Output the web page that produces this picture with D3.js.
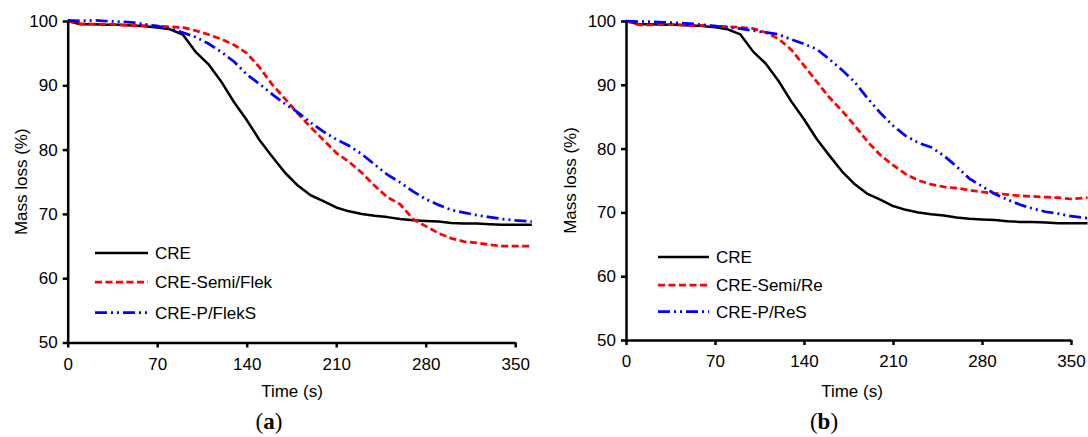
<!DOCTYPE html>
<html>
<head>
<meta charset="utf-8">
<script src="https://cdn.jsdelivr.net/npm/d3@7"></script>
<style>
  html, body { margin: 0; padding: 0; background: #fff; }
  svg { display: block; font-family: "Liberation Sans", Arial, sans-serif; }
</style>
</head>
<body>
<svg id="chart" width="1088" height="437"></svg>
<script>
// ---- data ----
const time = [0,10,20,30,40,50,60,70,80,90,100,110,120,130,140,150,160,170,180,190,200,210,220,230,240,250,260,270,280,290,300,310,320,330,340,350,363];
const xTicks = [0,70,140,210,280,350];
const yTicks = [50,60,70,80,90,100];

const cre = [100,99.5,99.5,99.4,99.4,99.3,99.2,99.0,98.7,97.9,95.2,93.3,90.6,87.4,84.6,81.5,78.9,76.4,74.4,72.9,72.0,71.0,70.4,70.0,69.7,69.5,69.2,69.0,68.9,68.8,68.6,68.5,68.5,68.4,68.3,68.3,68.3];

const semiFlek = [100,99.6,99.5,99.5,99.4,99.3,99.3,99.2,99.1,99.0,98.5,97.9,97.2,96.3,95.0,92.8,90.1,87.9,85.6,83.5,81.5,79.5,78.1,76.4,74.4,72.6,71.5,69.2,68.1,67.0,66.2,65.7,65.5,65.2,65.0,65.0,65.0];
const pFlekS = [100.1,100.0,100.1,100.0,99.9,99.8,99.5,99.2,98.8,98.2,97.5,96.5,95.2,93.7,91.7,90.2,88.6,87.1,85.8,84.2,82.8,81.6,80.6,79.3,77.7,76.1,74.9,73.5,72.3,71.4,70.6,70.2,69.8,69.5,69.2,69.0,68.8];

const semiRe = [100,99.4,99.4,99.5,99.4,99.3,99.3,99.2,99.1,99.0,98.8,98.2,97.2,95.5,93.0,90.5,88.0,85.9,83.6,81.1,79.0,77.4,76.0,75.0,74.4,74.0,73.8,73.5,73.2,73.0,72.8,72.6,72.5,72.4,72.3,72.1,72.3];
const pReS = [100,99.9,99.9,99.8,99.7,99.6,99.4,99.2,99.0,98.8,98.5,98.2,97.9,97.1,96.4,95.6,94.0,92.3,90.4,87.9,85.6,83.6,82.0,80.9,80.2,78.9,77.2,75.3,74.1,72.9,72.0,71.2,70.6,70.1,69.8,69.4,69.1];

const labelsA = ["CRE","CRE-Semi/Flek","CRE-P/FlekS"];
const labelsB = ["CRE","CRE-Semi/Re","CRE-P/ReS"];

// ---- styles ----
const styles = [
  {color:"#000000", width:2.5,  dash:null},
  {color:"#FF0000", width:2.75, dash:"7,3.5"},
  {color:"#0000FF", width:2.75, dash:"12,4,2,4,2,4"}
];
const FS = "17px";

const svg = d3.select("#chart");

function panel(cfg) {
  const x = d3.scaleLinear().domain([0,350]).range([cfg.x0, cfg.x1]);
  const y = d3.scaleLinear().domain([50,100]).range([cfg.y0, cfg.y1]);
  const g = svg.append("g");

  const line = d3.line().x((d,i) => x(time[i])).y(d => y(d));
  cfg.series.forEach((s,k) => {
    g.append("path").datum(s)
      .attr("fill","none")
      .attr("stroke", styles[k].color)
      .attr("stroke-width", styles[k].width)
      .attr("stroke-dasharray", styles[k].dash)
      .attr("stroke-linejoin","round")
      .attr("d", line);
  });

  const xa = g.append("g").attr("transform",`translate(0,${cfg.y0})`)
    .call(d3.axisBottom(x).tickValues(xTicks).tickSize(5).tickPadding(10).tickSizeOuter(0));
  const ya = g.append("g").attr("transform",`translate(${cfg.x0},0)`)
    .call(d3.axisLeft(y).tickValues(yTicks).tickSize(5).tickPadding(5).tickSizeOuter(0));
  [xa, ya].forEach(a => {
    a.select(".domain").attr("stroke","#000").attr("stroke-width",2.5);
    a.selectAll(".tick line").attr("stroke","#000").attr("stroke-width",2.5);
    a.selectAll(".tick text").attr("fill","#000").style("font-size",FS)
      .style("font-family","'Liberation Sans', Arial, sans-serif");
  });

  g.append("text").attr("x", cfg.xTitleX).attr("y", 397)
    .attr("text-anchor","middle").style("font-size",FS).text("Time (s)");
  g.append("text").attr("transform",`translate(${cfg.yTitleX},${(cfg.y0+cfg.y1)/2}) rotate(-90)`)
    .attr("text-anchor","middle").style("font-size",FS).text("Mass loss (%)");

  const lab = g.append("text").attr("x", cfg.labX).attr("y", 429)
    .attr("text-anchor","middle")
    .style("font-family","'Liberation Serif', 'DejaVu Serif', serif").style("font-size","23px");
  lab.append("tspan").text("(");
  lab.append("tspan").style("font-weight","bold").text(cfg.letter);
  lab.append("tspan").text(")");

  cfg.labels.forEach((t,k) => {
    const ly = cfg.legY[k];
    g.append("line").attr("x1", cfg.legX0).attr("x2", cfg.legX1).attr("y1", ly).attr("y2", ly)
      .attr("stroke", styles[k].color).attr("stroke-width", styles[k].width)
      .attr("stroke-dasharray", styles[k].dash);
    g.append("text").attr("x", cfg.legX1 + 7).attr("y", ly).attr("dy","0.35em")
      .style("font-size",FS).text(t);
  });
}

panel({x0:67.7, x1:515.2, y0:342.5, y1:21, series:[cre, semiFlek, pFlekS], labels:labelsA,
  xTitleX:292, yTitleX:27, labX:269, letter:"a",
  legX0:95, legX1:148, legY:[253, 282, 312.7]});
panel({x0:626, x1:1071, y0:340, y1:21, series:[cre, semiRe, pReS], labels:labelsB,
  xTitleX:852, yTitleX:576, labX:824, letter:"b",
  legX0:658, legX1:709, legY:[257, 285, 311.7]});
</script>
</body>
</html>
